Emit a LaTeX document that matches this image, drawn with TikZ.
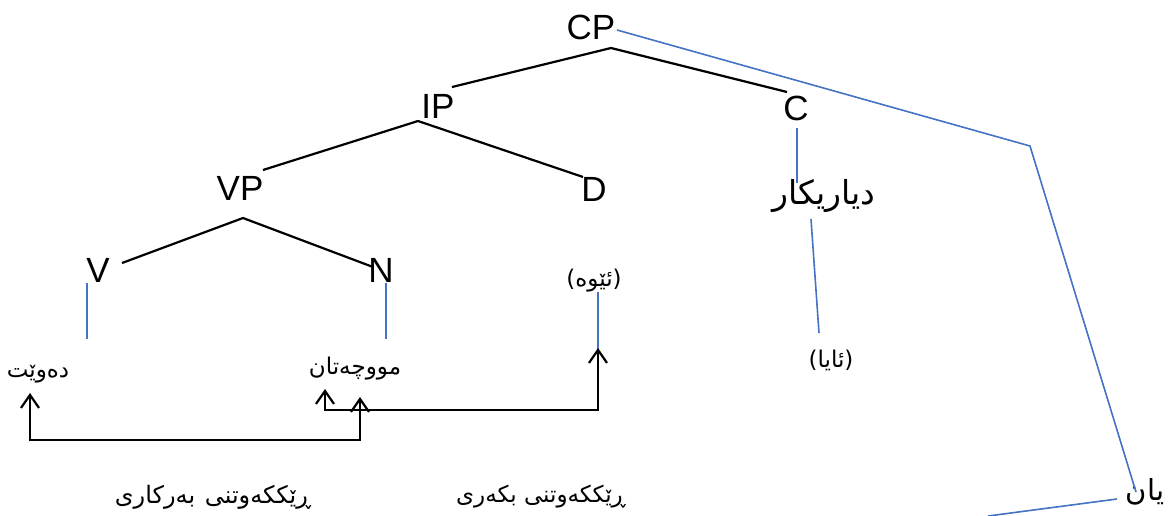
\documentclass[tikz,border=0pt]{standalone}
\usepackage{fontspec}
\setmainfont{Liberation Sans}
\newfontfamily\kurd[Script=Arabic]{DejaVu Sans}
\TeXXeTstate=1
\usetikzlibrary{arrows.meta}
\definecolor{tblue}{RGB}{68,114,196}
\tikzset{
  lat/.style={inner sep=0pt, font=\fontsize{35}{40}\selectfont},
  ku/.style={inner sep=0pt, font=\kurd\fontsize{23}{27}\selectfont},
  kubot/.style={inner sep=0pt, font=\kurd\fontsize{24}{28}\selectfont},
  kubig/.style={inner sep=0pt, font=\kurd\fontsize{33}{37}\selectfont},
  kuyan/.style={inner sep=0pt, font=\kurd\fontsize{29}{33}\selectfont},
  branch/.style={line width=2.2pt, black},
  link/.style={line width=1.6pt, tblue},
  agr/.style={line width=2.2pt, black,
    {Straight Barb[length=13pt,width=18pt]}-{Straight Barb[length=13pt,width=18pt]}},
}
\begin{document}
\begin{tikzpicture}[x=1pt,y=-1pt]
\useasboundingbox (0,0) rectangle (1172,515);
% tree labels
\node[lat] (CP) at (591,27) {CP};
\node[lat] (IP) at (438,106) {IP};
\node[lat] (C)  at (796,108) {C};
\node[lat] (VP) at (240,188) {VP};
\node[lat] (D)  at (594,189) {D};
\node[lat] (V)  at (98,270) {V};
\node[lat] (N)  at (381,270) {N};
% Kurdish labels
\node[kubig] (diar) at (824,196) {\beginR دیاریکار\endR};
\node[ku] (eiwe) at (594,281) {\beginR (ئێوە)\endR};
\node[ku] (aya)  at (831,360) {\beginR (ئایا)\endR};
\node[ku] (dewet) at (38,374) {\beginR دەوێت\endR};
\node[ku] (mucha) at (355,369) {\beginR مووچەتان\endR};
\node[kubot] (agrO) at (213,497) {\beginR ڕێککەوتنی\hspace{2pt} بەرکاری\endR};
\node[ku] (agrS) at (541,497) {\beginR ڕێککەوتنی بکەری\endR};
\node[kuyan] (yan) at (1145,492) {\beginR یان\endR};
% junction coordinates
\coordinate (cpj) at (611,48);
\coordinate (ipne) at (452,87);
\coordinate (cnw) at (787,92);
\coordinate (ipj) at (418,121);
\coordinate (vpne) at (263,170);
\coordinate (dnw) at (583,177);
\coordinate (vpj) at (243,218);
\coordinate (vne) at (122,263);
\coordinate (nnw) at (373,267);
% black branches
\draw[branch] (ipne) -- (cpj) -- (cnw);
\draw[branch] (vpne) -- (ipj) -- (dnw);
\draw[branch] (vne) -- (vpj) -- (nnw);
% blue links
\coordinate (cs) at (797,128);
\coordinate (ce) at (797,183);
\coordinate (ds) at (811,219);
\coordinate (de) at (819,333);
\coordinate (vs) at (87,283);
\coordinate (ve) at (87,339);
\coordinate (ns) at (386,283);
\coordinate (ne) at (386,339);
\coordinate (es) at (598,292);
\coordinate (ee) at (598,350);
\coordinate (cpe) at (617,30);
\coordinate (bend) at (1030,146);
\coordinate (ye) at (1136,492);
\coordinate (ys) at (1117,499);
\coordinate (yo) at (988,516);
\draw[link] (cs) -- (ce);
\draw[link] (ds) -- (de);
\draw[link] (vs) -- (ve);
\draw[link] (ns) -- (ne);
\draw[link] (es) -- (ee);
\draw[link] (cpe) -- (bend) -- (ye);
\draw[link] (ys) -- (yo);
% agreement arrows
\coordinate (a1) at (30,393);
\coordinate (a1b) at (30,440);
\coordinate (a1c) at (360,440);
\coordinate (a1d) at (360,397);
\coordinate (a2) at (325,389);
\coordinate (a2b) at (325,410);
\coordinate (a2c) at (598,410);
\coordinate (a2d) at (598,348);
\draw[agr] (a1) -- (a1b) -- (a1c) -- (a1d);
\draw[agr] (a2) -- (a2b) -- (a2c) -- (a2d);
\end{tikzpicture}
\end{document}
